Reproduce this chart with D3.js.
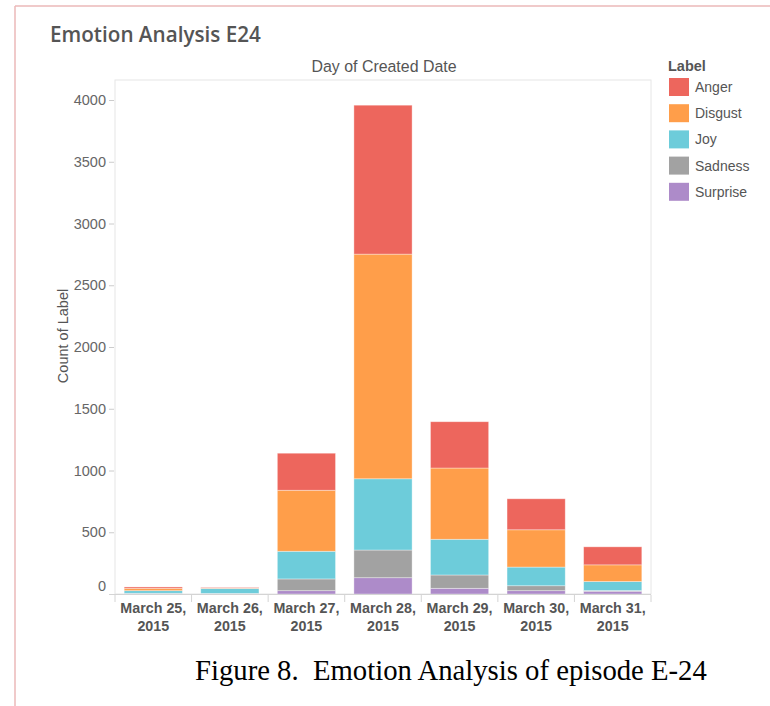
<!DOCTYPE html>
<html>
<head>
<meta charset="utf-8">
<script src="https://cdn.jsdelivr.net/npm/d3@7"></script>
<style>
  html, body { margin: 0; padding: 0; background: #fff; }
  svg { display: block; }
</style>
</head>
<body>
<svg id="chart" width="770" height="706"></svg>
<script>
// ---- data ----
const dayLabels = ["March 25,", "March 26,", "March 27,", "March 28,", "March 29,", "March 30,", "March 31,"];
const yearLabels = ["2015", "2015", "2015", "2015", "2015", "2015", "2015"];
const seriesNames = ["Anger", "Disgust", "Joy", "Sadness", "Surprise"];
const seriesColors = ["#ED665D", "#FF9E4A", "#6DCCDA", "#A2A2A2", "#AD8BC9"];
const anger    = [11, 5, 300, 1206, 375, 251, 146];
const disgust  = [19, 3, 494, 1819, 577, 302, 135];
const joy      = [21, 40, 224, 577, 289, 151, 73];
const sadness  = [3, 3, 95, 224, 108, 40, 6];
const surprise = [3, 2, 27, 132, 46, 27, 22];
const yTicks = [0, 500, 1000, 1500, 2000, 2500, 3000, 3500, 4000];
const titleText = "Emotion Analysis E24";
const topAxisTitle = "Day of Created Date";
const yAxisTitle = "Count of Label";
const legendTitle = "Label";
const captionText = "Figure 8.  Emotion Analysis of episode E-24";

// build table
const categories = dayLabels.map((d, i) => d + " " + yearLabels[i]);
const seriesData = { Anger: anger, Disgust: disgust, Joy: joy, Sadness: sadness, Surprise: surprise };
const table = categories.map((c, i) => {
  const row = { cat: c };
  seriesNames.forEach(s => row[s] = seriesData[s][i]);
  return row;
});

const svg = d3.select("#chart");
const plot = { left: 115, right: 651, top: 80, bottom: 594 };

// outer pink frame
const frame = svg.append("g").attr("stroke", "#EBB8B8").attr("stroke-width", 1.5).attr("fill", "none");
frame.append("line").attr("x1", 15).attr("x2", 15).attr("y1", 6).attr("y2", 706);
frame.append("line").attr("x1", 15).attr("x2", 770).attr("y1", 6).attr("y2", 6);

function fitWidth(sel, target) {
  const w = sel.node().getComputedTextLength();
  const fs = parseFloat(sel.attr("font-size"));
  sel.attr("font-size", (fs * target / w).toFixed(2));
}

// title
const title = svg.append("text").attr("x", 50).attr("y", 42)
  .attr("font-family", "'Open Sans', sans-serif").attr("font-weight", 600)
  .attr("font-size", 18).attr("fill", "#555").text(titleText);
fitWidth(title, 211);

// scales
const x = d3.scaleBand().domain(categories).range([plot.left, plot.right])
  .paddingInner(0.24).paddingOuter(0.12);
const y = d3.scaleLinear().domain([0, 4000]).range([plot.bottom, 100]);

// plot area border
svg.append("rect").attr("x", plot.left).attr("y", plot.top)
  .attr("width", plot.right - plot.left).attr("height", plot.bottom - plot.top)
  .attr("fill", "none").attr("stroke", "#E6E6E6").attr("stroke-width", 1);

// top axis title
const tat = svg.append("text").attr("x", (plot.left + plot.right) / 2 + 1).attr("y", 72)
  .attr("text-anchor", "middle").attr("font-family", "'Liberation Sans', Arial, sans-serif")
  .attr("font-size", 14).attr("fill", "#555").text(topAxisTitle);
fitWidth(tat, 145);

// y axis
const yAxis = d3.axisLeft(y).tickValues(yTicks).tickSize(5).tickPadding(3).tickFormat(d3.format("d"));
const yg = svg.append("g").attr("transform", `translate(${plot.left - 1},0)`).call(yAxis);
yg.select(".domain").remove();
yg.selectAll(".tick line").attr("stroke", "#CCCCCC");
yg.selectAll(".tick text").attr("font-family", "'Liberation Sans', Arial, sans-serif")
  .attr("font-size", 14.5).attr("fill", "#666")
  .attr("dy", d => d === 0 ? "-0.25em" : "0.32em");

// y axis title
svg.append("text").attr("transform", `translate(68,336) rotate(-90)`)
  .attr("text-anchor", "middle").attr("font-family", "'Liberation Sans', Arial, sans-serif")
  .attr("font-size", 14.5).attr("fill", "#555").text(yAxisTitle);

// bars
const stackOrder = ["Surprise", "Sadness", "Joy", "Disgust", "Anger"];
const stacked = d3.stack().keys(stackOrder)(table);
const color = d3.scaleOrdinal().domain(seriesNames).range(seriesColors);
svg.append("g").selectAll("g").data(stacked).join("g")
  .attr("fill", d => color(d.key))
  .selectAll("rect").data(d => d).join("rect")
  .attr("x", d => x(d.data.cat))
  .attr("width", x.bandwidth())
  .attr("y", d => y(d[1]))
  .attr("height", d => Math.max(0, y(d[0]) - y(d[1])))
  .attr("stroke", "#fff").attr("stroke-opacity", 0.45).attr("stroke-width", 0.8);

// baseline
svg.append("line").attr("x1", 109).attr("x2", plot.right).attr("y1", plot.bottom + 0.5).attr("y2", plot.bottom + 0.5)
  .attr("stroke", "#D4D4D4").attr("stroke-width", 1);

// category separators
const gap = (x.step() - x.bandwidth()) / 2;
const seps = categories.map(c => x(c) - gap).concat([x(categories[categories.length - 1]) + x.bandwidth() + gap]);
svg.append("g").selectAll("line").data(seps).join("line")
  .attr("x1", d => d).attr("x2", d => d).attr("y1", plot.bottom + 1).attr("y2", plot.bottom + 8)
  .attr("stroke", "#D4D4D4");

// x labels
const xl = svg.append("g").attr("font-family", "'Liberation Sans', Arial, sans-serif")
  .attr("font-weight", "bold").attr("font-size", 14.3).attr("fill", "#555").attr("text-anchor", "middle");
xl.selectAll("text.d").data(categories).join("text").attr("class", "d")
  .attr("x", c => x(c) + x.bandwidth() / 2).attr("y", 613)
  .text((c, i) => dayLabels[i]);
xl.selectAll("text.yr").data(categories).join("text").attr("class", "yr")
  .attr("x", c => x(c) + x.bandwidth() / 2).attr("y", 631)
  .text((c, i) => yearLabels[i]);

// legend
const lg = svg.append("g");
lg.append("text").attr("x", 668).attr("y", 71).attr("font-family", "'Liberation Sans', Arial, sans-serif")
  .attr("font-weight", "bold").attr("font-size", 14.5).attr("fill", "#555").text(legendTitle);
const items = lg.selectAll("g.item").data(seriesNames).join("g").attr("class", "item")
  .attr("transform", (d, i) => `translate(669,${78 + i * 26.2})`);
items.append("rect").attr("width", 20).attr("height", 18).attr("fill", d => color(d));
items.append("text").attr("x", 26).attr("y", 14).attr("font-family", "'Liberation Sans', Arial, sans-serif")
  .attr("font-size", 14).attr("fill", "#555").text(d => d);

// caption
const cap = svg.append("text").attr("x", 195).attr("y", 680)
  .attr("font-family", "'Liberation Serif', 'Times New Roman', serif")
  .attr("font-size", 24).attr("fill", "#000").attr("xml:space", "preserve")
  .style("white-space", "pre").text(captionText);
fitWidth(cap, 512);
</script>
</body>
</html>
